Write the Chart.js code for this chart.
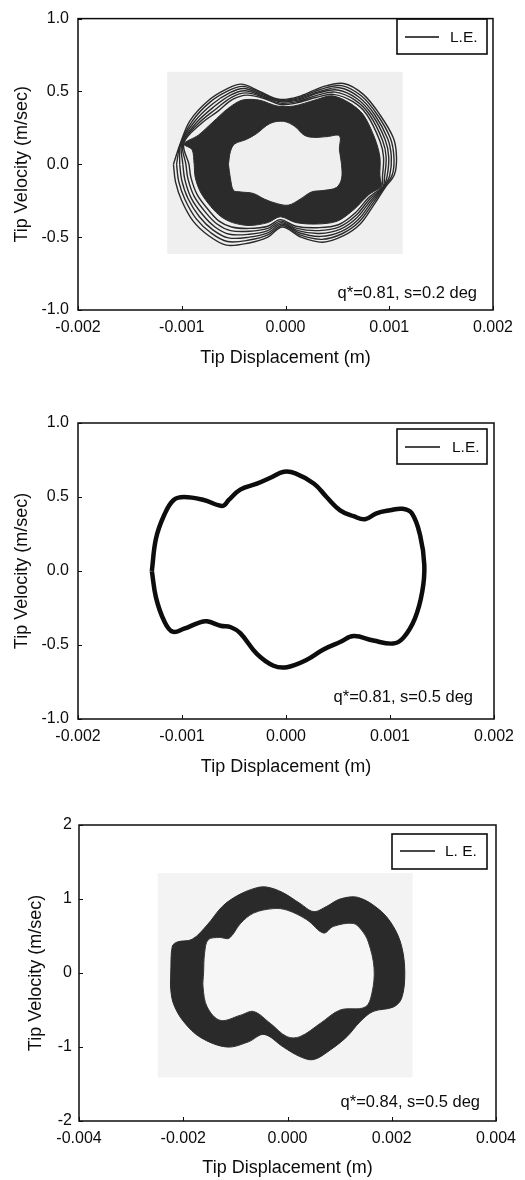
<!DOCTYPE html>
<html>
<head>
<meta charset="utf-8">
<script src="https://cdn.jsdelivr.net/npm/chart.js@4.4.1/dist/chart.umd.min.js"></script>
<style>
html,body{margin:0;padding:0;background:#fff;}
canvas{position:absolute;left:0;}
</style>
</head>
<body>
<canvas id="c1" width="525" height="390" style="top:0px"></canvas>
<canvas id="c2" width="525" height="395" style="top:400px"></canvas>
<canvas id="c3" width="525" height="380" style="top:800px"></canvas>
<script>
// ---------------- data (x: tip displacement in m, y: tip velocity in m/s) ----------------
const p1XTicks = [-0.002, -0.001, 0, 0.001, 0.002];
const p1YTicks = [-1, -0.5, 0, 0.5, 1];
const p2XTicks = [-0.002, -0.001, 0, 0.001, 0.002];
const p2YTicks = [-1, -0.5, 0, 0.5, 1];
const p3XTicks = [-0.004, -0.002, 0, 0.002, 0.004];
const p3YTicks = [-2, -1, 0, 1, 2];

const p1Label = 'L.E.';
const p2Label = 'L.E.';
const p3Label = 'L. E.';
const p1Note = 'q*=0.81, s=0.2 deg';
const p2Note = 'q*=0.81, s=0.5 deg';
const p3Note = 'q*=0.84, s=0.5 deg';

// panel 1: outer (separate) orbit lines, outermost first
const p1Loop1 = [[-1.08e-3,0.00],[-1.02e-3,0.13],[-0.92e-3,0.30],[-0.74e-3,0.44],[-0.56e-3,0.52],[-0.42e-3,0.55],[-0.25e-3,0.50],[-0.05e-3,0.445],[0.15e-3,0.47],[0.35e-3,0.53],[0.56e-3,0.555],[0.75e-3,0.48],[0.91e-3,0.34],[1.04e-3,0.18],[1.07e-3,0.05],[1.05e-3,-0.07],[0.96e-3,-0.16],[0.85e-3,-0.28],[0.72e-3,-0.41],[0.56e-3,-0.49],[0.36e-3,-0.535],[0.15e-3,-0.50],[-0.03e-3,-0.43],[-0.17e-3,-0.50],[-0.35e-3,-0.54],[-0.57e-3,-0.555],[-0.74e-3,-0.49],[-0.89e-3,-0.39],[-1.00e-3,-0.25],[-1.06e-3,-0.12],[-1.08e-3,0.00]];
const p1Loop2 = [[-1.05e-3,0.00],[-1.015e-3,0.135],[-0.90e-3,0.295],[-0.73e-3,0.425],[-0.55e-3,0.505],[-0.41e-3,0.535],[-0.24e-3,0.49],[-0.05e-3,0.44],[0.14e-3,0.46],[0.34e-3,0.515],[0.54e-3,0.54],[0.73e-3,0.47],[0.885e-3,0.34],[1.01e-3,0.18],[1.045e-3,0.05],[1.03e-3,-0.07],[0.955e-3,-0.155],[0.84e-3,-0.27],[0.71e-3,-0.395],[0.55e-3,-0.475],[0.35e-3,-0.515],[0.14e-3,-0.485],[-0.03e-3,-0.42],[-0.17e-3,-0.485],[-0.35e-3,-0.52],[-0.56e-3,-0.53],[-0.72e-3,-0.47],[-0.86e-3,-0.375],[-0.97e-3,-0.24],[-1.03e-3,-0.115],[-1.05e-3,0.00]];
const p1Loop3 = [[-1.02e-3,0.00],[-1.01e-3,0.14],[-0.88e-3,0.29],[-0.71e-3,0.41],[-0.54e-3,0.49],[-0.40e-3,0.52],[-0.23e-3,0.48],[-0.05e-3,0.435],[0.13e-3,0.45],[0.33e-3,0.50],[0.52e-3,0.525],[0.71e-3,0.46],[0.86e-3,0.34],[0.985e-3,0.175],[1.02e-3,0.05],[1.005e-3,-0.075],[0.95e-3,-0.155],[0.83e-3,-0.26],[0.70e-3,-0.38],[0.54e-3,-0.46],[0.34e-3,-0.495],[0.13e-3,-0.47],[-0.035e-3,-0.41],[-0.17e-3,-0.47],[-0.35e-3,-0.50],[-0.55e-3,-0.505],[-0.70e-3,-0.45],[-0.83e-3,-0.36],[-0.94e-3,-0.235],[-1.00e-3,-0.11],[-1.02e-3,0.00]];
const p1Loop4 = [[-0.99e-3,0.00],[-1.00e-3,0.14],[-0.86e-3,0.285],[-0.69e-3,0.395],[-0.53e-3,0.475],[-0.39e-3,0.505],[-0.22e-3,0.47],[-0.05e-3,0.43],[0.12e-3,0.44],[0.32e-3,0.49],[0.50e-3,0.51],[0.69e-3,0.45],[0.835e-3,0.34],[0.96e-3,0.17],[0.995e-3,0.05],[0.98e-3,-0.08],[0.945e-3,-0.155],[0.82e-3,-0.25],[0.69e-3,-0.365],[0.53e-3,-0.445],[0.33e-3,-0.475],[0.12e-3,-0.455],[-0.04e-3,-0.40],[-0.17e-3,-0.455],[-0.35e-3,-0.48],[-0.54e-3,-0.48],[-0.68e-3,-0.43],[-0.80e-3,-0.345],[-0.91e-3,-0.23],[-0.97e-3,-0.105],[-0.99e-3,0.00]];
const p1Loop5 = [[-0.96e-3,0.00],[-0.99e-3,0.145],[-0.84e-3,0.28],[-0.67e-3,0.38],[-0.52e-3,0.46],[-0.38e-3,0.49],[-0.21e-3,0.46],[-0.05e-3,0.42],[0.11e-3,0.43],[0.31e-3,0.475],[0.48e-3,0.495],[0.67e-3,0.44],[0.81e-3,0.34],[0.935e-3,0.165],[0.97e-3,0.05],[0.955e-3,-0.085],[0.94e-3,-0.155],[0.81e-3,-0.24],[0.68e-3,-0.35],[0.52e-3,-0.43],[0.32e-3,-0.455],[0.11e-3,-0.44],[-0.045e-3,-0.39],[-0.17e-3,-0.44],[-0.35e-3,-0.46],[-0.53e-3,-0.455],[-0.66e-3,-0.41],[-0.77e-3,-0.33],[-0.88e-3,-0.22],[-0.94e-3,-0.10],[-0.96e-3,0.00]];
const p1Loop6 = [[-0.93e-3,0.00],[-0.98e-3,0.145],[-0.82e-3,0.275],[-0.65e-3,0.365],[-0.51e-3,0.445],[-0.37e-3,0.475],[-0.20e-3,0.45],[-0.05e-3,0.41],[0.10e-3,0.42],[0.30e-3,0.46],[0.46e-3,0.48],[0.65e-3,0.43],[0.785e-3,0.34],[0.91e-3,0.16],[0.945e-3,0.05],[0.935e-3,-0.08],[0.925e-3,-0.155],[0.80e-3,-0.23],[0.67e-3,-0.335],[0.51e-3,-0.415],[0.31e-3,-0.435],[0.10e-3,-0.425],[-0.05e-3,-0.38],[-0.17e-3,-0.425],[-0.35e-3,-0.44],[-0.52e-3,-0.43],[-0.64e-3,-0.39],[-0.74e-3,-0.315],[-0.85e-3,-0.21],[-0.91e-3,-0.095],[-0.93e-3,0.00]];
// panel 1: dense (merged) part of the orbit band, outer edge
const p1Band = [[-0.88e-3,0.00],[-0.90e-3,0.10],[-0.98e-3,0.14],[-0.84e-3,0.20],[-0.70e-3,0.29],[-0.56e-3,0.38],[-0.42e-3,0.44],[-0.25e-3,0.44],[-0.08e-3,0.40],[0.08e-3,0.40],[0.28e-3,0.44],[0.45e-3,0.47],[0.62e-3,0.42],[0.75e-3,0.34],[0.86e-3,0.18],[0.91e-3,0.05],[0.91e-3,-0.08],[0.92e-3,-0.15],[0.80e-3,-0.21],[0.66e-3,-0.31],[0.50e-3,-0.39],[0.30e-3,-0.41],[0.10e-3,-0.40],[-0.05e-3,-0.36],[-0.17e-3,-0.40],[-0.35e-3,-0.42],[-0.51e-3,-0.40],[-0.62e-3,-0.36],[-0.72e-3,-0.29],[-0.82e-3,-0.19],[-0.87e-3,-0.09],[-0.88e-3,0.00]];
// panel 1: innermost orbit (edge of the empty centre)
const p1Inner = [[-0.55e-3,0.00],[-0.53e-3,0.09],[-0.49e-3,0.14],[-0.38e-3,0.17],[-0.28e-3,0.21],[-0.15e-3,0.28],[-0.02e-3,0.295],[0.09e-3,0.26],[0.18e-3,0.20],[0.27e-3,0.185],[0.40e-3,0.19],[0.52e-3,0.195],[0.52e-3,0.10],[0.54e-3,0.00],[0.54e-3,-0.10],[0.49e-3,-0.16],[0.36e-3,-0.18],[0.25e-3,-0.19],[0.14e-3,-0.24],[0.03e-3,-0.28],[-0.08e-3,-0.27],[-0.20e-3,-0.24],[-0.31e-3,-0.20],[-0.43e-3,-0.19],[-0.50e-3,-0.18],[-0.53e-3,-0.10],[-0.55e-3,0.00]];
const p1Shade = {x: [-1.14e-3, 1.13e-3], y: [-0.615, 0.635]};

// panel 2: limit cycle
const p2Cycle = [[-1.29e-3,0.00],[-1.25e-3,0.22],[-1.17e-3,0.38],[-1.08e-3,0.48],[-0.98e-3,0.50],[-0.79e-3,0.48],[-0.61e-3,0.44],[-0.55e-3,0.48],[-0.44e-3,0.55],[-0.28e-3,0.59],[-0.15e-3,0.63],[-0.02e-3,0.67],[0.09e-3,0.66],[0.27e-3,0.59],[0.39e-3,0.50],[0.52e-3,0.41],[0.65e-3,0.37],[0.76e-3,0.35],[0.87e-3,0.39],[1.00e-3,0.41],[1.12e-3,0.42],[1.21e-3,0.39],[1.29e-3,0.24],[1.33e-3,0.04],[1.31e-3,-0.14],[1.24e-3,-0.32],[1.13e-3,-0.45],[1.03e-3,-0.49],[0.84e-3,-0.47],[0.65e-3,-0.44],[0.52e-3,-0.48],[0.36e-3,-0.53],[0.20e-3,-0.60],[0.01e-3,-0.65],[-0.12e-3,-0.64],[-0.28e-3,-0.56],[-0.44e-3,-0.42],[-0.53e-3,-0.38],[-0.63e-3,-0.37],[-0.76e-3,-0.34],[-0.84e-3,-0.35],[-0.98e-3,-0.39],[-1.09e-3,-0.41],[-1.17e-3,-0.34],[-1.25e-3,-0.18],[-1.29e-3,0.00]];

// panel 3: orbit band, outer edge and inner edge
const p3Outer = [[-2.24e-3,0.00],[-2.21e-3,0.36],[-2.11e-3,0.42],[-1.83e-3,0.455],[-1.54e-3,0.65],[-1.25e-3,0.90],[-0.95e-3,1.05],[-0.60e-3,1.15],[-0.39e-3,1.16],[-0.10e-3,1.09],[0.24e-3,0.94],[0.50e-3,0.83],[0.75e-3,0.90],[1.01e-3,1.00],[1.36e-3,1.02],[1.77e-3,0.85],[2.03e-3,0.63],[2.19e-3,0.36],[2.25e-3,0.00],[2.19e-3,-0.34],[2.03e-3,-0.46],[1.64e-3,-0.52],[1.39e-3,-0.66],[1.14e-3,-0.86],[0.82e-3,-1.04],[0.50e-3,-1.17],[0.24e-3,-1.13],[-0.08e-3,-1.00],[-0.45e-3,-0.83],[-0.75e-3,-0.93],[-1.16e-3,-1.00],[-1.67e-3,-0.87],[-1.99e-3,-0.66],[-2.18e-3,-0.43],[-2.24e-3,-0.22],[-2.24e-3,0.00]];
const p3Inner = [[-1.61e-3,0.00],[-1.59e-3,0.27],[-1.52e-3,0.45],[-1.30e-3,0.48],[-1.12e-3,0.47],[-0.90e-3,0.67],[-0.65e-3,0.81],[-0.27e-3,0.87],[-0.01e-3,0.85],[0.37e-3,0.72],[0.69e-3,0.54],[0.88e-3,0.63],[1.26e-3,0.67],[1.42e-3,0.58],[1.55e-3,0.42],[1.66e-3,0.07],[1.62e-3,-0.27],[1.49e-3,-0.46],[1.01e-3,-0.50],[0.63e-3,-0.68],[0.24e-3,-0.86],[-0.01e-3,-0.86],[-0.33e-3,-0.68],[-0.65e-3,-0.52],[-0.90e-3,-0.57],[-1.29e-3,-0.64],[-1.54e-3,-0.46],[-1.62e-3,-0.19],[-1.61e-3,0.00]];
const p3Shade = {x: [-2.49e-3, 2.40e-3], y: [-1.41, 1.35]};

// ---------------- rendering ----------------
const FONT = "'Liberation Sans', Arial, Helvetica, sans-serif";
const INK = '#0d0d0d';
const pts = a => a.map(p => ({x: p[0], y: p[1]}));

function line(data, o) {
  return Object.assign({data: pts(data), showLine: true, pointRadius: 0, pointHoverRadius: 0,
    fill: false, tension: 0.35, borderColor: '#2a2a2a', borderWidth: 1.4, order: 1}, o);
}

const decor = {
  id: 'decor',
  beforeDatasetsDraw(chart, args, o) {
    if (!o.shade) return;
    const {ctx, scales: {x, y}} = chart;
    const x1 = x.getPixelForValue(o.shade.x[0]), x2 = x.getPixelForValue(o.shade.x[1]);
    const y1 = y.getPixelForValue(o.shade.y[1]), y2 = y.getPixelForValue(o.shade.y[0]);
    ctx.save(); ctx.fillStyle = o.shadeColor; ctx.fillRect(x1, y1, x2 - x1, y2 - y1); ctx.restore();
  },
  afterDraw(chart, args, o) {
    const {ctx, chartArea: a, scales: {x, y}} = chart;
    ctx.save();
    ctx.strokeStyle = INK; ctx.lineWidth = 1.5;
    ctx.strokeRect(a.left, a.top, a.right - a.left, a.bottom - a.top);
    ctx.lineWidth = 1;
    ctx.beginPath();
    x.ticks.forEach(t => { const px = Math.round(x.getPixelForValue(t.value)) + 0.5; ctx.moveTo(px, a.bottom); ctx.lineTo(px, a.bottom - 4); });
    y.ticks.forEach(t => { const py = Math.round(y.getPixelForValue(t.value)) + 0.5; ctx.moveTo(a.left, py); ctx.lineTo(a.left + 4, py); });
    ctx.stroke();
    const L = o.legend;
    ctx.lineWidth = 1.6;
    ctx.strokeRect(L.box[0], L.box[1], L.box[2] - L.box[0], L.box[3] - L.box[1]);
    ctx.lineWidth = 1.4;
    ctx.beginPath(); ctx.moveTo(L.line[0], L.line[2]); ctx.lineTo(L.line[1], L.line[2]); ctx.stroke();
    ctx.fillStyle = INK; ctx.font = '15.5px ' + FONT; ctx.textBaseline = 'middle'; ctx.textAlign = 'left';
    const lbl = chart.data.datasets.find(d => d.label).label;
    ctx.fillText(lbl, L.textX, L.line[2] + 0.5);
    ctx.font = '16.5px ' + FONT;
    ctx.textAlign = 'right';
    ctx.fillText(o.note.text, o.note.x, o.note.y);
    ctx.restore();
  }
};

function makeChart(id, cfg) {
  const tickFont = {family: FONT, size: 16};
  const titleFont = {family: FONT, size: 18};
  new Chart(document.getElementById(id), {
    type: 'line',
    data: {datasets: cfg.datasets},
    plugins: [decor],
    options: {
      responsive: false, animation: false, events: [],
      layout: {padding: {top: cfg.plotTop, right: 525 - cfg.plotRight, left: 0, bottom: 0}},
      plugins: {
        legend: {display: false}, tooltip: {enabled: false},
        decor: {shade: cfg.shade, shadeColor: cfg.shadeColor, legend: cfg.legend, note: cfg.note}
      },
      scales: {
        x: {
          type: 'linear', min: cfg.xTicks[0], max: cfg.xTicks[cfg.xTicks.length - 1],
          afterBuildTicks: s => { s.ticks = cfg.xTicks.map(v => ({value: v})); },
          afterFit: s => { s.height = cfg.H - cfg.plotBottom; },
          ticks: {autoSkip: false, maxRotation: 0, color: INK, font: tickFont, padding: 8,
            callback: v => v.toFixed(cfg.xDec)},
          grid: {display: false, drawTicks: false}, border: {display: false},
          title: {display: true, text: 'Tip Displacement (m)', color: INK, font: titleFont,
            padding: {top: 0, bottom: cfg.xTitlePad}}
        },
        y: {
          type: 'linear', min: cfg.yTicks[0], max: cfg.yTicks[cfg.yTicks.length - 1],
          afterBuildTicks: s => { s.ticks = cfg.yTicks.map(v => ({value: v})); },
          afterFit: s => { s.width = cfg.plotLeft; },
          ticks: {autoSkip: false, color: INK, font: tickFont, padding: cfg.yTickPad,
            callback: v => v.toFixed(cfg.yDec)},
          grid: {display: false, drawTicks: false}, border: {display: false},
          title: {display: true, text: 'Tip Velocity (m/sec)', color: INK, font: titleFont,
            padding: {top: cfg.yTitlePad, bottom: 0}}
        }
      }
    }
  });
}

makeChart('c1', {
  H: 390, plotTop: 14, plotBottom: 310, plotLeft: 78, plotRight: 493,
  xTicks: p1XTicks, yTicks: p1YTicks, xDec: 3, yDec: 1,
  xTitlePad: 21.2, yTitlePad: 11.2, yTickPad: 9,
  shade: p1Shade, shadeColor: '#efefef',
  legend: {box: [397, 19, 487, 54], line: [405, 439, 37], textX: 450},
  note: {text: p1Note, x: 477, y: 293},
  datasets: [
    line(p1Inner, {label: p1Label, fill: 'shape', backgroundColor: '#efefef', borderColor: '#2c2c2c', borderWidth: 1, order: 0}),
    line(p1Loop1), line(p1Loop2), line(p1Loop3), line(p1Loop4), line(p1Loop5), line(p1Loop6),
    line(p1Band, {fill: 'shape', backgroundColor: '#2b2b2b', borderColor: '#2b2b2b', borderWidth: 1, order: 2, tension: 0.3})
  ]
});

makeChart('c2', {
  H: 395, plotTop: 23, plotBottom: 319, plotLeft: 78, plotRight: 494,
  xTicks: p2XTicks, yTicks: p2YTicks, xDec: 3, yDec: 1,
  xTitlePad: 17.2, yTitlePad: 11.2, yTickPad: 9,
  shade: null,
  legend: {box: [397, 29, 487, 64], line: [405, 440, 47], textX: 452},
  note: {text: p2Note, x: 473, y: 297},
  datasets: [
    line(p2Cycle, {label: p2Label, borderColor: '#0d0d0d', borderWidth: 4.5, tension: 0.4, order: 0})
  ]
});

makeChart('c3', {
  H: 380, plotTop: 25, plotBottom: 321, plotLeft: 79, plotRight: 496,
  xTicks: p3XTicks, yTicks: p3YTicks, xDec: 3, yDec: 0,
  xTitlePad: 1.2, yTitlePad: 25.2, yTickPad: 7,
  shade: p3Shade, shadeColor: '#f3f3f3',
  legend: {box: [392, 34, 487, 69], line: [400, 435, 51], textX: 445},
  note: {text: p3Note, x: 480, y: 302},
  datasets: [
    line(p3Inner, {label: p3Label, fill: 'shape', backgroundColor: '#f6f6f6', borderColor: '#3a3a3a', borderWidth: 1, order: 0}),
    line(p3Outer, {fill: 'shape', backgroundColor: '#2a2a2a', borderColor: '#2a2a2a', borderWidth: 1, order: 1})
  ]
});
</script>
</body>
</html>
